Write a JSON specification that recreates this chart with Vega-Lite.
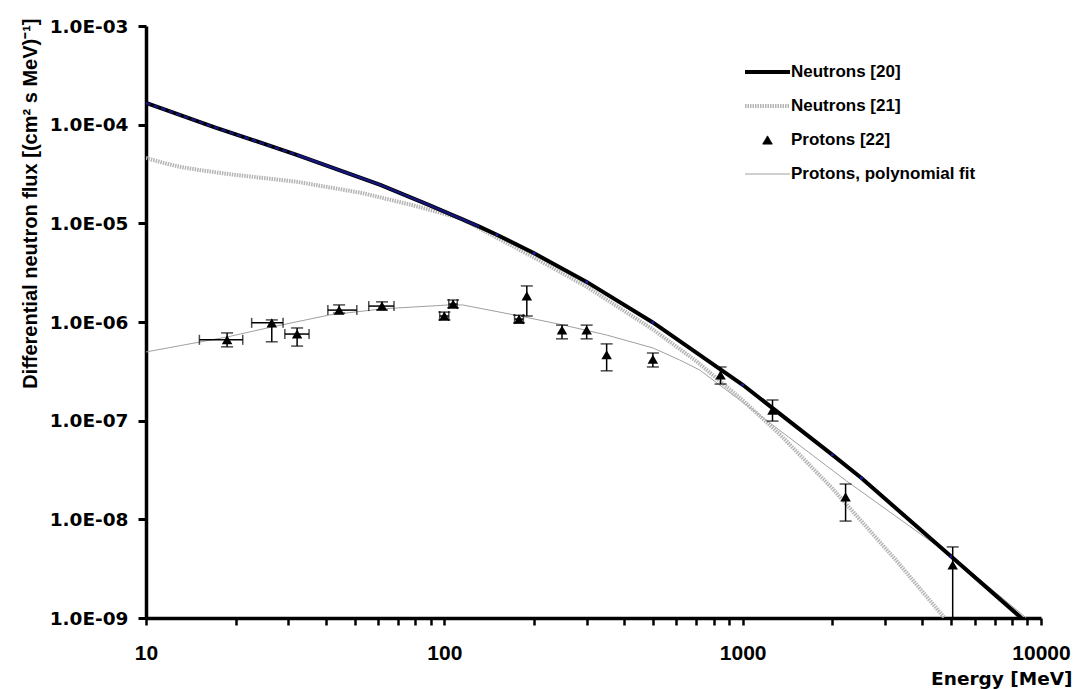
{
  "$schema": "https://vega.github.io/schema/vega-lite/v6.json",
  "width": 895,
  "height": 592,
  "autosize": "none",
  "padding": {"left": 146, "top": 26, "right": 32, "bottom": 71},
  "background": "white",
  "config": {"view": {"stroke": null}, "font": "Liberation Sans"},
  "datasets": {
    "curves": [
      {"series": "Neutrons [20]", "E": 10, "F": 1.66e-4},
      {"series": "Neutrons [20]", "E": 17, "F": 9.4e-5},
      {"series": "Neutrons [20]", "E": 32, "F": 4.95e-5},
      {"series": "Neutrons [20]", "E": 61, "F": 2.45e-5},
      {"series": "Neutrons [20]", "E": 89, "F": 1.53e-5},
      {"series": "Neutrons [20]", "E": 131, "F": 9.27e-6},
      {"series": "Neutrons [20]", "E": 150, "F": 7.66e-6},
      {"series": "Neutrons [20]", "E": 200, "F": 4.97e-6},
      {"series": "Neutrons [20]", "E": 300, "F": 2.55e-6},
      {"series": "Neutrons [20]", "E": 500, "F": 9.9e-7},
      {"series": "Neutrons [20]", "E": 1000, "F": 2.31e-7},
      {"series": "Neutrons [20]", "E": 2000, "F": 4.5e-8},
      {"series": "Neutrons [20]", "E": 2500, "F": 2.62e-8},
      {"series": "Neutrons [20]", "E": 5000, "F": 4.2e-9},
      {"series": "Neutrons [20]", "E": 8600, "F": 1.0e-9},
      {"series": "Neutrons [21]", "E": 10, "F": 4.6e-5},
      {"series": "Neutrons [21]", "E": 11.5, "F": 4.08e-5},
      {"series": "Neutrons [21]", "E": 13, "F": 3.74e-5},
      {"series": "Neutrons [21]", "E": 15, "F": 3.48e-5},
      {"series": "Neutrons [21]", "E": 19, "F": 3.15e-5},
      {"series": "Neutrons [21]", "E": 32, "F": 2.64e-5},
      {"series": "Neutrons [21]", "E": 53, "F": 2.03e-5},
      {"series": "Neutrons [21]", "E": 78, "F": 1.53e-5},
      {"series": "Neutrons [21]", "E": 113, "F": 1.13e-5},
      {"series": "Neutrons [21]", "E": 131, "F": 8.9e-6},
      {"series": "Neutrons [21]", "E": 200, "F": 4.5e-6},
      {"series": "Neutrons [21]", "E": 300, "F": 2.28e-6},
      {"series": "Neutrons [21]", "E": 500, "F": 8.4e-7},
      {"series": "Neutrons [21]", "E": 700, "F": 4.0e-7},
      {"series": "Neutrons [21]", "E": 1000, "F": 1.61e-7},
      {"series": "Neutrons [21]", "E": 1330, "F": 7.3e-8},
      {"series": "Neutrons [21]", "E": 2000, "F": 2.05e-8},
      {"series": "Neutrons [21]", "E": 3280, "F": 3.8e-9},
      {"series": "Neutrons [21]", "E": 4750, "F": 1.0e-9},
      {"series": "Protons, polynomial fit", "E": 10, "F": 4.97e-7},
      {"series": "Protons, polynomial fit", "E": 18.7, "F": 7.05e-7},
      {"series": "Protons, polynomial fit", "E": 26.4, "F": 8.9e-7},
      {"series": "Protons, polynomial fit", "E": 41.3, "F": 1.18e-6},
      {"series": "Protons, polynomial fit", "E": 62.2, "F": 1.36e-6},
      {"series": "Protons, polynomial fit", "E": 104, "F": 1.49e-6},
      {"series": "Protons, polynomial fit", "E": 115, "F": 1.49e-6},
      {"series": "Protons, polynomial fit", "E": 179, "F": 1.15e-6},
      {"series": "Protons, polynomial fit", "E": 250, "F": 9.33e-7},
      {"series": "Protons, polynomial fit", "E": 350, "F": 7.38e-7},
      {"series": "Protons, polynomial fit", "E": 500, "F": 5.46e-7},
      {"series": "Protons, polynomial fit", "E": 615, "F": 4.12e-7},
      {"series": "Protons, polynomial fit", "E": 718, "F": 3.26e-7},
      {"series": "Protons, polynomial fit", "E": 977, "F": 1.62e-7},
      {"series": "Protons, polynomial fit", "E": 2228, "F": 2.45e-8},
      {"series": "Protons, polynomial fit", "E": 5058, "F": 4.15e-9},
      {"series": "Protons, polynomial fit", "E": 8933, "F": 1.0e-9}
    ],
    "protons": [
      {"series": "Protons [22]", "E": 18.7, "F": 6.6e-7, "ylo": 5.6e-7, "yhi": 7.75e-7, "xlo": 15.1, "xhi": 21.1},
      {"series": "Protons [22]", "E": 26.4, "F": 9.8e-7, "ylo": 6.3e-7, "yhi": 1.05e-6, "xlo": 22.6, "xhi": 28.8},
      {"series": "Protons [22]", "E": 32.1, "F": 7.55e-7, "ylo": 5.7e-7, "yhi": 8.7e-7, "xlo": 29.2, "xhi": 35.2},
      {"series": "Protons [22]", "E": 44.4, "F": 1.32e-6, "ylo": 1.23e-6, "yhi": 1.49e-6, "xlo": 40.7, "xhi": 50.9},
      {"series": "Protons [22]", "E": 61.8, "F": 1.45e-6, "ylo": 1.32e-6, "yhi": 1.6e-6, "xlo": 55.8, "xhi": 67.8},
      {"series": "Protons [22]", "E": 100, "F": 1.15e-6, "ylo": 1.05e-6, "yhi": 1.26e-6, "xlo": 96.5, "xhi": 103.5},
      {"series": "Protons [22]", "E": 107, "F": 1.52e-6, "ylo": 1.39e-6, "yhi": 1.67e-6, "xlo": 103.5, "xhi": 110.5},
      {"series": "Protons [22]", "E": 178, "F": 1.07e-6, "ylo": 9.8e-7, "yhi": 1.17e-6, "xlo": 172, "xhi": 184},
      {"series": "Protons [22]", "E": 189, "F": 1.84e-6, "ylo": 1.15e-6, "yhi": 2.32e-6},
      {"series": "Protons [22]", "E": 248, "F": 8.3e-7, "ylo": 6.75e-7, "yhi": 9.3e-7},
      {"series": "Protons [22]", "E": 300, "F": 8.3e-7, "ylo": 6.75e-7, "yhi": 9.3e-7},
      {"series": "Protons [22]", "E": 350, "F": 4.65e-7, "ylo": 3.2e-7, "yhi": 6.0e-7},
      {"series": "Protons [22]", "E": 500, "F": 4.2e-7, "ylo": 3.5e-7, "yhi": 4.85e-7},
      {"series": "Protons [22]", "E": 843, "F": 2.9e-7, "ylo": 2.35e-7, "yhi": 3.5e-7},
      {"series": "Protons [22]", "E": 1259, "F": 1.28e-7, "ylo": 9.9e-8, "yhi": 1.62e-7},
      {"series": "Protons [22]", "E": 2213, "F": 1.69e-8, "ylo": 9.6e-9, "yhi": 2.28e-8},
      {"series": "Protons [22]", "E": 5058, "F": 3.44e-9, "ylo": 1.0e-9, "yhi": 5.25e-9}
    ]
  },
  "encoding": {
    "x": {
      "field": "E", "type": "quantitative",
      "scale": {"type": "log", "domain": [10, 10000], "nice": false},
      "axis": {
        "title": "Energy [MeV]",
        "values": [10, 20, 30, 40, 50, 60, 70, 80, 90, 100, 200, 300, 400, 500, 600, 700, 800, 900, 1000, 2000, 3000, 4000, 5000, 6000, 7000, 8000, 9000, 10000],
        "labelExpr": "(datum.value == 10 || datum.value == 100 || datum.value == 1000 || datum.value == 10000) ? format(datum.value, 'd') : ''",
        "labelFont": "Liberation Sans", "labelFontWeight": "bold", "labelFontSize": 21, "labelColor": "black",
        "labelPadding": 17, "labelFlush": false, "labelOverlap": false,
        "domainColor": "black", "domainWidth": 3.5,
        "tickColor": "black", "tickWidth": 2.5, "tickSize": 7, "grid": false,
        "titleFont": "DejaVu Sans", "titleFontWeight": "bold", "titleFontSize": 18.5, "titleColor": "black",
        "titleAnchor": "end", "titleAlign": "right", "titleX": 926, "titleY": 66, "titleBaseline": "alphabetic"
      }
    },
    "y": {
      "field": "F", "type": "quantitative",
      "scale": {"type": "log", "domain": [1e-9, 1e-3], "nice": false},
      "axis": {
        "title": "Differential neutron flux [(cm² s MeV)⁻¹]",
        "values": [1e-9, 1e-8, 1e-7, 1e-6, 1e-5, 1e-4, 1e-3],
        "labelExpr": "'1.0E-0' + round(-log(datum.value) / LN10)",
        "labelFont": "DejaVu Sans", "labelFontWeight": "bold", "labelFontSize": 18.5, "labelColor": "black",
        "labelPadding": 10, "labelOverlap": false,
        "domainColor": "black", "domainWidth": 3.5,
        "tickColor": "black", "tickWidth": 3, "tickSize": 8, "grid": false,
        "titleFont": "Liberation Sans", "titleFontWeight": "bold", "titleFontSize": 20, "titleColor": "black",
        "titleAngle": 270, "titleAnchor": "end", "titleAlign": "right", "titleBaseline": "middle",
        "titleX": -116, "titleY": -8
      }
    },
    "color": {
      "field": "series", "type": "nominal",
      "scale": {
        "domain": ["Neutrons [20]", "Neutrons [21]", "Protons [22]", "Protons, polynomial fit"],
        "range": ["black", "#b4b4b4", "black", "#a0a0a0"]
      },
      "legend": {
        "title": null, "orient": "none", "legendX": 599, "legendY": 36,
        "symbolType": "stroke", "symbolSize": 2025, "clipHeight": 20, "rowPadding": 14, "padding": 0,
        "symbolOffset": 14,
        "labelFont": "Liberation Sans", "labelFontWeight": "bold", "labelFontSize": 17, "labelColor": "black",
        "labelOffset": 15, "labelLimit": 300,
        "encode": {
          "symbols": {
            "update": {
              "shape": {"signal": "datum.value === 'Protons [22]' ? 'triangle-up' : 'stroke'"},
              "size": {"signal": "datum.value === 'Protons [22]' ? 90 : 2025"},
              "fill": {"signal": "datum.value === 'Protons [22]' ? 'black' : 'transparent'"},
              "stroke": {"signal": "datum.value === 'Protons [22]' ? 'transparent' : (datum.value === 'Neutrons [21]' ? '#b4b4b4' : (datum.value === 'Neutrons [20]' ? 'black' : '#a0a0a0'))"},
              "strokeWidth": {"signal": "(datum.value === 'Neutrons [20]' || datum.value === 'Neutrons [21]') ? 4 : 1"},
              "strokeDash": {"signal": "datum.value === 'Neutrons [21]' ? [1.5, 1] : [1, 0]"},
              "opacity": {"value": 1}
            }
          }
        }
      }
    }
  },
  "layer": [
    {
      "data": {"name": "curves"},
      "transform": [{"filter": "datum.series === 'Protons, polynomial fit'"}],
      "mark": {"type": "line", "strokeWidth": 1, "clip": true}
    },
    {
      "data": {"name": "curves"},
      "transform": [{"filter": "datum.series === 'Neutrons [21]'"}],
      "mark": {"type": "line", "strokeWidth": 4, "strokeDash": [1.5, 1], "clip": true}
    },
    {
      "data": {"name": "curves"},
      "transform": [{"filter": "datum.series === 'Neutrons [20]'"}],
      "mark": {"type": "line", "strokeWidth": 4, "clip": true}
    },
    {
      "data": {"name": "curves"},
      "transform": [{"filter": "datum.series === 'Neutrons [20]' && datum.E <= 32"}],
      "mark": {"type": "line", "strokeWidth": 2.5, "strokeDash": [5, 3], "clip": true},
      "encoding": {"color": {"value": "#15157a"}}
    },
    {
      "data": {"name": "curves"},
      "transform": [{"filter": "datum.series === 'Neutrons [20]' && datum.E >= 32 && datum.E <= 131"}],
      "mark": {"type": "line", "strokeWidth": 2.5, "clip": true},
      "encoding": {"color": {"value": "#15157a"}}
    },
    {
      "data": {"name": "curves"},
      "transform": [{"filter": "datum.series === 'Neutrons [20]' && datum.E >= 150 && datum.E <= 5000"}],
      "mark": {"type": "point", "shape": "square", "filled": true, "size": 8, "opacity": 1},
      "encoding": {"color": {"value": "#1a1a9a"}}
    },
    {
      "data": {"name": "protons"},
      "mark": {"type": "errorbar", "ticks": {"size": 12, "thickness": 1.5}, "rule": {"strokeWidth": 1.5}},
      "encoding": {
        "x": {"field": "E", "type": "quantitative", "scale": {"type": "log", "domain": [10, 10000], "nice": false}, "title": "Energy [MeV]"},
        "y": {"field": "ylo", "type": "quantitative", "scale": {"type": "log", "domain": [1e-9, 1e-3], "nice": false}, "title": "Differential neutron flux [(cm² s MeV)⁻¹]"},
        "y2": {"field": "yhi"},
        "color": {"value": "black"}
      }
    },
    {
      "data": {"name": "protons"},
      "transform": [{"filter": "isValid(datum.xlo)"}],
      "mark": {"type": "errorbar", "ticks": {"size": 10, "thickness": 1.5}, "rule": {"strokeWidth": 1.5}},
      "encoding": {
        "y": {"field": "F", "type": "quantitative", "scale": {"type": "log", "domain": [1e-9, 1e-3], "nice": false}, "title": "Differential neutron flux [(cm² s MeV)⁻¹]"},
        "x": {"field": "xlo", "type": "quantitative", "scale": {"type": "log", "domain": [10, 10000], "nice": false}, "title": "Energy [MeV]"},
        "x2": {"field": "xhi"},
        "color": {"value": "black"}
      }
    },
    {
      "data": {"name": "protons"},
      "mark": {"type": "point", "shape": "triangle-up", "filled": true, "size": 110, "opacity": 1, "strokeWidth": 0}
    }
  ]
}
